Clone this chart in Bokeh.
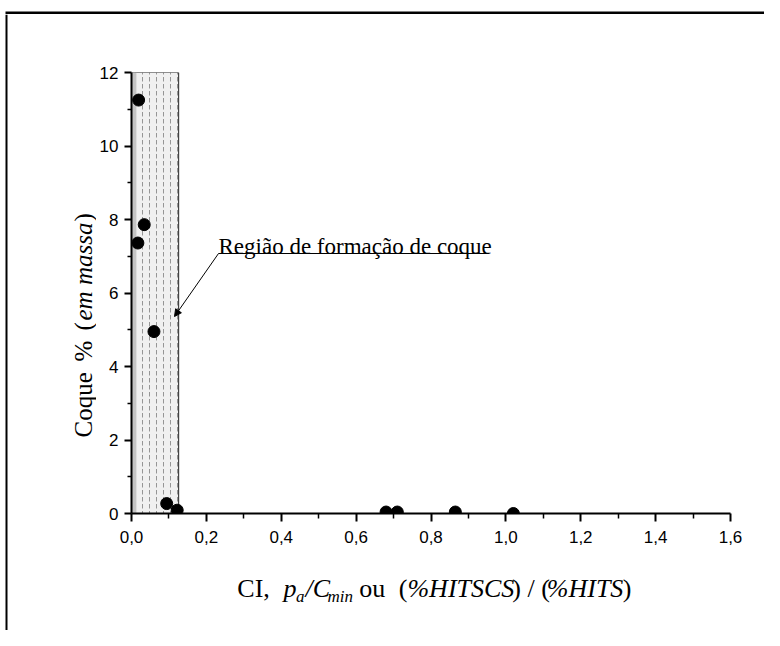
import math
from bokeh.plotting import figure
from bokeh.layouts import column, row
from bokeh.models import Range1d, FixedTicker, CustomJSTickFormatter, Label, Arrow, NormalHead
from bokeh.embed import file_html
from bokeh.resources import INLINE

# ---------------- data ----------------
coke_x = [0.019, 0.034, 0.017, 0.060, 0.094, 0.122, 0.680, 0.710, 0.865, 1.020]
coke_y = [11.25, 7.86, 7.36, 4.95, 0.27, 0.09, 0.04, 0.04, 0.04, 0.00]

region_x = [0.0, 0.126]     # coke formation region (x extent)
region_y = [0.0, 12.0]      # (y extent)

x_ticks = [0.0, 0.2, 0.4, 0.6, 0.8, 1.0, 1.2, 1.4, 1.6]
x_minor = [0.1, 0.3, 0.5, 0.7, 0.9, 1.1, 1.3, 1.5]
y_ticks = [0, 2, 4, 6, 8, 10, 12]
y_minor = [1, 3, 5, 7, 9, 11]

annot_text = "Região de formação de coque"

SERIF = "Liberation Serif"

# ---------------- geometry (reference picture pixels) ----------------
OFF = 7                # page px = picture px + OFF
PAGE_L, PAGE_T, PAGE_R, PAGE_B = 8, 8, 772, 638


def P(v):
    return v + OFF


TOP_B = P(15)          # bottom of top border strip
SPLIT_X = P(97)        # boundary between y-label strip and main figure
MAIN_B = P(555)        # bottom of main figure
FX0, FX1 = P(132), P(731)
FY0, FY1 = P(514), P(73)


def bare(w, h):
    f = figure(width=w, height=h, output_backend="svg", toolbar_location=None,
               x_axis_location=None, y_axis_location=None,
               min_border=0, min_border_left=0, min_border_right=0,
               min_border_top=0, min_border_bottom=0,
               x_range=Range1d(0, w), y_range=Range1d(0, h))
    f.xgrid.visible = False
    f.ygrid.visible = False
    f.outline_line_color = None
    f.background_fill_color = "white"
    f.border_fill_color = "white"
    return f


# ---- top border strip ----
top_w, top_h = PAGE_R - PAGE_L, TOP_B - PAGE_T
top_fig = bare(top_w, top_h)
top_fig.quad(left=[P(6) - PAGE_L], right=[top_w], bottom=[0], top=[3],
             fill_color="black", line_color=None)

# ---- left strip: border line + rotated y label ----
left_w, left_h = SPLIT_X - PAGE_L, PAGE_B - TOP_B
left_fig = bare(left_w, left_h)
left_fig.quad(left=[P(6) - PAGE_L], right=[P(8) - PAGE_L], bottom=[0], top=[left_h],
              fill_color="black", line_color=None)
FSY = 25
yl_pieces = [  # text, italic, lower end (picture y)
    ("Coque", False, 438),
    ("%", False, 362),
    ("(", False, 331),
    ("em massa", True, 321),
    (")", False, 222),
]
for txt, it, py in yl_pieces:
    left_fig.add_layout(Label(x=P(84) - PAGE_L, y=PAGE_B - P(py), text=txt, text_font=SERIF,
                              angle=math.pi / 2, text_font_size=f"{FSY}px",
                              text_font_style="italic" if it else "normal",
                              text_color="black", text_baseline="alphabetic", text_align="left"))

# ---- main figure ----
main_w, main_h = PAGE_R - SPLIT_X, MAIN_B - TOP_B
p = figure(width=main_w, height=main_h, output_backend="svg", toolbar_location=None,
           x_range=Range1d(x_ticks[0], x_ticks[-1]),
           y_range=Range1d(y_ticks[0], y_ticks[-1]),
           min_border_left=FX0 - SPLIT_X, min_border_right=PAGE_R - FX1,
           min_border_top=FY1 - TOP_B, min_border_bottom=MAIN_B - FY0)
p.xgrid.visible = False
p.ygrid.visible = False
p.outline_line_color = None
p.background_fill_color = "white"
p.border_fill_color = "white"


def dx(px):
    return (P(px) - FX0) / (FX1 - FX0) * (x_ticks[-1] - x_ticks[0]) + x_ticks[0]


def dy(py):
    return (FY0 - P(py)) / (FY0 - FY1) * (y_ticks[-1] - y_ticks[0]) + y_ticks[0]


# region box
p.quad(left=[region_x[0]], right=[region_x[1]], bottom=[region_y[0]], top=[region_y[1]],
       fill_color="#f0f0f0", line_color="#222222", line_width=1,
       hatch_pattern="vertical_dash", hatch_color="#777777", hatch_scale=7,
       hatch_weight=1, hatch_alpha=0.75)
p.quad(left=[region_x[0]], right=[region_x[0] + 0.013], bottom=[region_y[0]], top=[region_y[1]],
       fill_color="#c4c4c4", line_color=None)

# points
p.scatter(coke_x, coke_y, size=12, marker="circle", fill_color="black", line_color="black")

# axes
for ax in (p.xaxis[0], p.yaxis[0]):
    ax.axis_line_width = 2
    ax.major_tick_line_width = 2
    ax.minor_tick_line_width = 1.5
    ax.major_label_text_font = "Liberation Sans"
    ax.major_label_text_font_size = "17px"
    ax.major_label_text_color = "black"
    ax.axis_line_color = "black"
    ax.major_tick_line_color = "black"
    ax.minor_tick_line_color = "black"
    ax.major_tick_in = 0
    ax.minor_tick_in = 0

p.xaxis.ticker = FixedTicker(ticks=x_ticks, minor_ticks=x_minor)
p.yaxis.ticker = FixedTicker(ticks=y_ticks, minor_ticks=y_minor)
p.xaxis.formatter = CustomJSTickFormatter(code="return tick.toFixed(1).replace('.', ',');")
p.xaxis.major_tick_out = 8
p.xaxis.minor_tick_out = 5
p.xaxis.major_label_standoff = 9
p.yaxis.major_tick_out = 7
p.yaxis.minor_tick_out = 4
p.yaxis.major_label_standoff = 6

# annotation
ann_x0, ann_x1, ann_y = dx(219), dx(489), dy(254)
arr_x, arr_y = dx(175), dy(317)
p.add_layout(Label(x=ann_x0, y=dy(247), text=annot_text, text_font=SERIF,
                   text_font_size="23px", text_color="black",
                   text_baseline="alphabetic", text_align="left"))
p.segment(x0=[ann_x0], y0=[ann_y], x1=[ann_x1], y1=[ann_y], line_color="black", line_width=1.2)
p.add_layout(Arrow(end=NormalHead(size=7, fill_color="black", line_color="black"),
                   x_start=ann_x0, y_start=ann_y, x_end=arr_x, y_end=arr_y,
                   line_color="black", line_width=1))

# ---- x label strip (mixed styles) ----
xl_w, xl_h = PAGE_R - SPLIT_X, PAGE_B - MAIN_B
xl_fig = bare(xl_w, xl_h)

REG = {' ': 250, 'C': 667, 'I': 333, ',': 250, 'o': 500, 'u': 500, '(': 333, ')': 333,
       '/': 278, '%': 833, 'q': 500, 'e': 444}
ITA = {' ': 250, 'p': 500, 'a': 500, '/': 278, 'C': 667, 'm': 722, 'i': 278, 'n': 500,
       '%': 833, 'H': 722, 'I': 333, 'T': 556, 'S': 500, 'e': 444, 's': 389}


def width(txt, italic, size):
    tab = ITA if italic else REG
    return sum(tab.get(c, 500) for c in txt) * size / 1000.0


FSX, SUB = 26, 17
xl_pieces = [  # text, italic, size, baseline shift (px down), gap after (px)
    ("CI,", False, FSX, 0, 19),
    ("p", True, FSX, 0, 1),
    ("a", True, SUB, 8, 2),
    ("/C", True, FSX, 0, 0),
    ("min", True, SUB, 8, 10),
    ("ou", False, FSX, 0, 18),
    ("(", False, FSX, 0, 1),
    ("%HITSCS", True, FSX, 0, 10),
    (") / (", False, FSX, 0, 1),
    ("%HITS", True, FSX, 0, 8),
    (")", False, FSX, 0, 0),
]
cx = P(215)
base = P(589)
for txt, it, sz, sh, gap in xl_pieces:
    xl_fig.add_layout(Label(x=cx - SPLIT_X, y=PAGE_B - (base + sh), text=txt, text_font=SERIF,
                            text_font_size=f"{sz}px",
                            text_font_style="italic" if it else "normal",
                            text_color="black", text_baseline="alphabetic", text_align="left"))
    cx += width(txt, it, sz) + gap

layout = column(top_fig, row(left_fig, column(p, xl_fig, spacing=0), spacing=0), spacing=0)
open("out.html", "w").write(file_html(layout, INLINE))
